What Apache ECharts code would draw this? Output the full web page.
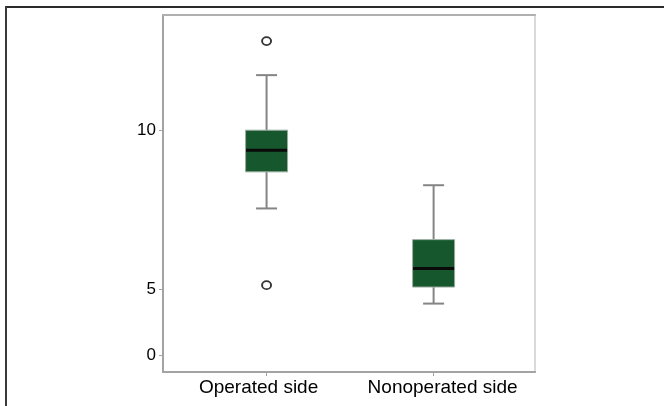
<!DOCTYPE html>
<html>
<head>
<meta charset="utf-8">
<script src="https://cdn.jsdelivr.net/npm/echarts@6/dist/echarts.min.js"></script>
<style>
html,body{margin:0;padding:0;background:#fff;}
#chart{width:664px;height:406px;}
</style>
</head>
<body>
<div id="chart"></div>
<script>
// Categories and positions on the x scale
var categories = ['Operated side', 'Nonoperated side'];
var categoryPos = [1, 2];
// Box statistics: [min, Q1, median, Q3, max]
var operatedBox = [7.54, 8.69, 9.37, 10.0, 11.73];
var nonoperatedBox = [4.55, 5.07, 5.65, 6.56, 8.27];
// Outliers per category
var operatedOutliers = [12.8, 5.13];
var nonoperatedOutliers = [];
// Y tick labels
var yTicks = [0, 5, 10];

var boxes = [operatedBox, nonoperatedBox];
var boxData = boxes.map(function (b, i) { return [categoryPos[i]].concat(b); });
var outlierData = [];
[operatedOutliers, nonoperatedOutliers].forEach(function (arr, i) {
  arr.forEach(function (v) { outlierData.push([categoryPos[i], v]); });
});

var FONT = '"Liberation Sans", Arial, Helvetica, sans-serif';
var chart = echarts.init(document.getElementById('chart'), null, {renderer: 'canvas'});

function renderBox(params, api) {
  var x = api.value(0);
  var vmin = api.value(1), q1 = api.value(2), med = api.value(3), q3 = api.value(4), vmax = api.value(5);
  var pMin = api.coord([x, vmin]);
  var pQ1 = api.coord([x, q1]);
  var pMed = api.coord([x, med]);
  var pQ3 = api.coord([x, q3]);
  var pMax = api.coord([x, vmax]);
  var cx = pMin[0];
  var boxW = 42, capW = 21;
  var whisk = {stroke: '#858585', lineWidth: 2};
  return {
    type: 'group',
    children: [
      {type: 'line', shape: {x1: cx, y1: pMin[1], x2: cx, y2: pQ1[1]}, style: whisk},
      {type: 'line', shape: {x1: cx, y1: pQ3[1], x2: cx, y2: pMax[1]}, style: whisk},
      {type: 'line', shape: {x1: cx - capW / 2, y1: pMin[1], x2: cx + capW / 2, y2: pMin[1]}, style: whisk},
      {type: 'line', shape: {x1: cx - capW / 2, y1: pMax[1], x2: cx + capW / 2, y2: pMax[1]}, style: whisk},
      {type: 'rect', shape: {x: cx - boxW / 2, y: pQ3[1], width: boxW, height: pQ1[1] - pQ3[1]},
        style: {fill: '#16572e', stroke: '#9aab9f', lineWidth: 1}},
      {type: 'line', shape: {x1: cx - boxW / 2 + 0.5, y1: pMed[1], x2: cx + boxW / 2 - 0.5, y2: pMed[1]},
        style: {stroke: '#0a0a0a', lineWidth: 3}}
    ]
  };
}

var option = {
  animation: false,
  backgroundColor: '#fff',
  textStyle: {fontFamily: FONT},
  grid: {left: 163, right: 129, top: 15, bottom: 34, show: true, borderColor: '#dadada', borderWidth: 2, backgroundColor: 'transparent'},
  xAxis: [{
    type: 'value', min: 0.38, max: 2.607, position: 'bottom',
    axisLine: {show: true, onZero: false, lineStyle: {color: '#a3a3a3', width: 2}},
    axisTick: {show: true, customValues: categoryPos, length: 4, lineStyle: {color: '#a3a3a3', width: 1}},
    axisLabel: {show: true, customValues: categoryPos, margin: 6, color: '#000', fontSize: 19, fontFamily: FONT,
      formatter: function (v) {
        var i = categoryPos.indexOf(v);
        if (i < 0) return '';
        return '{c' + i + '|' + categories[i] + '}';
      },
      rich: {
        c0: {fontSize: 19, fontFamily: FONT, color: '#000', padding: [0, 16, 0, 0]},
        c1: {fontSize: 19, fontFamily: FONT, color: '#000', padding: [0, 0, 0, 18]}
      }},
    splitLine: {show: false}
  }, {
    type: 'value', min: 0.38, max: 2.607, position: 'top',
    axisLine: {show: true, onZero: false, lineStyle: {color: '#b0b0b0', width: 2}},
    axisTick: {show: false}, axisLabel: {show: false}, splitLine: {show: false}
  }],
  yAxis: {
    type: 'value', min: -0.53, max: 13.62,
    breaks: [{start: 1, end: 3.93, gap: 0}],
    breakArea: {show: false},
    axisLine: {show: true, onZero: false, lineStyle: {color: '#a3a3a3', width: 2}},
    axisTick: {show: true, customValues: yTicks, length: 4, lineStyle: {color: '#a3a3a3', width: 1}},
    axisLabel: {show: true, customValues: yTicks, margin: 7, color: '#000', fontSize: 17, fontFamily: FONT},
    splitLine: {show: false}
  },
  graphic: [
    {type: 'line', shape: {x1: 5, y1: 7, x2: 664, y2: 7}, style: {stroke: '#2a2a2a', lineWidth: 2}, silent: true},
    {type: 'line', shape: {x1: 6, y1: 6, x2: 6, y2: 406}, style: {stroke: '#3a3a3a', lineWidth: 2}, silent: true}
  ],
  series: [{
    type: 'custom',
    xAxisIndex: 0,
    renderItem: renderBox,
    encode: {x: 0, y: [1, 2, 3, 4, 5]},
    data: boxData,
    z: 3
  }, {
    type: 'scatter',
    xAxisIndex: 0,
    data: outlierData,
    symbol: 'circle',
    symbolSize: [9, 8],
    itemStyle: {color: '#fff', borderColor: '#000', borderWidth: 1.8},
    z: 4
  }]
};
chart.setOption(option);
</script>
</body>
</html>
